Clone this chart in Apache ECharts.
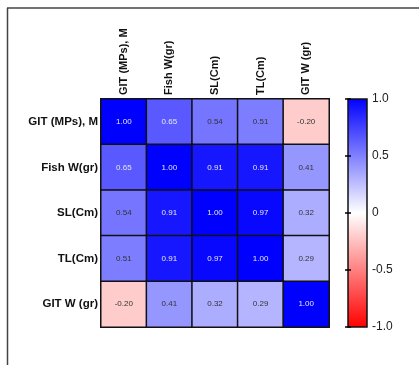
<!DOCTYPE html>
<html>
<head>
<meta charset="utf-8">
<script src="https://cdn.jsdelivr.net/npm/echarts@6/dist/echarts.min.js"></script>
<style>html,body{margin:0;padding:0;background:#fff;}#c{width:419px;height:365px;}</style>
</head>
<body>
<div id="c"></div>
<script>
const variables = ['GIT (MPs), M', 'Fish W(gr)', 'SL(Cm)', 'TL(Cm)', 'GIT W (gr)'];
const rowGIT = [1.00, 0.65, 0.54, 0.51, -0.20];
const rowFish = [0.65, 1.00, 0.91, 0.91, 0.41];
const rowSL = [0.54, 0.91, 1.00, 0.97, 0.32];
const rowTL = [0.51, 0.91, 0.97, 1.00, 0.29];
const rowGITW = [-0.20, 0.41, 0.32, 0.29, 1.00];
const colorbarTicks = [-1, -0.5, 0, 0.5, 1];

const matrix = [rowGIT, rowFish, rowSL, rowTL, rowGITW];
const data = [];
matrix.forEach((row, r) => row.forEach((v, c) => data.push([c, r, v])));

const chart = echarts.init(document.getElementById('c'), null, {renderer: 'canvas'});
const FONT = 'Liberation Sans, Arial, sans-serif';

chart.setOption({
  animation: false,
  backgroundColor: '#fff',
  graphic: [
    {type: 'line', shape: {x1: 7, y1: 8, x2: 419, y2: 8}, style: {stroke: '#444', lineWidth: 1.5}},
    {type: 'line', shape: {x1: 7.5, y1: 8, x2: 7.5, y2: 365}, style: {stroke: '#444', lineWidth: 1.5}}
  ],
  grid: [
    {left: 101, top: 99, width: 228, height: 228},
    {left: 348, top: 99, width: 19, height: 228}
  ],
  xAxis: [
    {
      type: 'category', data: variables, position: 'top', gridIndex: 0,
      axisLine: {show: false}, axisTick: {show: false}, splitLine: {show: false},
      axisLabel: {rotate: -90, margin: 4, fontFamily: FONT, fontWeight: 'bold', fontSize: 11, color: '#111', interval: 0}
    },
    {type: 'value', gridIndex: 1, min: 0, max: 1, show: false}
  ],
  yAxis: [
    {
      type: 'category', data: variables, inverse: true, gridIndex: 0,
      axisLine: {show: false}, axisTick: {show: false}, splitLine: {show: false},
      axisLabel: {margin: 3, fontFamily: FONT, fontWeight: 'bold', fontSize: 11.5, color: '#111', interval: 0}
    },
    {
      type: 'value', gridIndex: 1, min: -1, max: 1, interval: 0.5, position: 'right', z: 5,
      axisLine: {show: false}, splitLine: {show: false},
      axisTick: {show: true, inside: true, length: 3, lineStyle: {color: '#000', width: 1.5}},
      axisLabel: {margin: 5, fontFamily: FONT, fontSize: 12, color: '#222',
        formatter: v => (v === 0 ? '0' : v.toFixed(1))}
    },
    {
      type: 'value', gridIndex: 1, min: -1, max: 1, interval: 0.5, position: 'left', z: 5,
      axisLine: {show: false}, splitLine: {show: false},
      axisTick: {show: true, inside: true, length: 3, lineStyle: {color: '#000', width: 1.5}},
      axisLabel: {show: false}
    }
  ],
  visualMap: {
    show: false, type: 'continuous', min: -1, max: 1, seriesIndex: 0, dimension: 2,
    inRange: {color: ['#ff0000', '#ffffff', '#0000ff']}
  },
  series: [
    {
      type: 'heatmap', xAxisIndex: 0, yAxisIndex: 0,
      data: data.map(d => ({value: d, label: {color: d[2] > 0.6 ? '#e6e6f0' : '#333333'}})),
      itemStyle: {borderColor: '#111', borderWidth: 1.5},
      label: {
        show: true, fontFamily: FONT, fontSize: 8,
        formatter: p => p.value[2].toFixed(2)
      },
      emphasis: {disabled: true}
    },
    {
      type: 'custom', xAxisIndex: 1, yAxisIndex: 1, z: 1,
      data: [[0.5, 0]],
      renderItem: function (params, api) {
        const top = api.coord([0, colorbarTicks[colorbarTicks.length - 1]]);
        const bot = api.coord([0, colorbarTicks[0]]);
        const cs = params.coordSys;
        return {
          type: 'rect',
          shape: {x: cs.x, y: top[1], width: cs.width, height: bot[1] - top[1]},
          style: {
            fill: new echarts.graphic.LinearGradient(0, 0, 0, 1, [
              {offset: 0, color: '#0000ff'}, {offset: 0.5, color: '#ffffff'}, {offset: 1, color: '#ff0000'}
            ]),
            stroke: '#111', lineWidth: 1.5
          }
        };
      }
    }
  ]
});
</script>
</body>
</html>
